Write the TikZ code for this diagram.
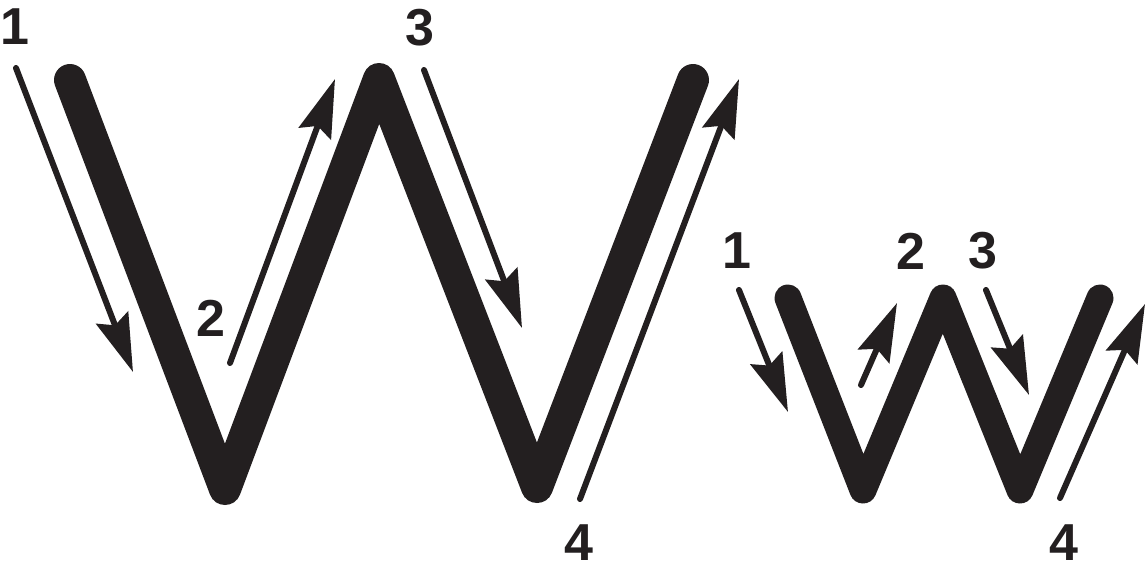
\documentclass[tikz,border=0pt]{standalone}
\usepackage{fontspec}
\setmainfont{Liberation Sans}
\usetikzlibrary{arrows.meta}
\definecolor{cInk}{RGB}{35,31,32}

\begin{document}
\begin{tikzpicture}[x=0.5pt, y=-0.5pt,
    bigstroke/.style={cInk, line width=16pt, line cap=round, line join=round},
    smallstroke/.style={cInk, line width=13.5pt, line cap=round, line join=round},
    guide/.style={cInk, line width=3pt, line cap=round,
      -{Stealth[length=29pt, width=17pt, inset=4pt]}},
    num/.style={text=cInk, inner sep=0pt, font=\fontsize{26}{26}\selectfont\bfseries}]
  \useasboundingbox (0,0) rectangle (1147,568);
  % Big W
  \coordinate (Wa) at (70,80);
  \coordinate (Wb) at (225,489);
  \coordinate (Wc) at (379,79);
  \coordinate (Wd) at (537,487);
  \coordinate (We) at (693,80);
  \draw[bigstroke] (Wa) -- (Wb) -- (Wc) -- (Wd) -- (We);
  % Small w
  \coordinate (wa) at (788,298);
  \coordinate (wb) at (863,490);
  \coordinate (wc) at (943,298);
  \coordinate (wd) at (1020,490);
  \coordinate (we) at (1100,298);
  \draw[smallstroke] (wa) -- (wb) -- (wc) -- (wd) -- (we);
  % Stroke order, big W
  \coordinate (A1s) at (16,68);   \coordinate (A1e) at (133,372);
  \coordinate (A2s) at (230,363); \coordinate (A2e) at (335,79);
  \coordinate (A3s) at (424,70);  \coordinate (A3e) at (522,328);
  \coordinate (A4s) at (580,499); \coordinate (A4e) at (739,79);
  \draw[guide] (A1s) -- (A1e);
  \draw[guide] (A2s) -- (A2e);
  \draw[guide] (A3s) -- (A3e);
  \draw[guide] (A4s) -- (A4e);
  \node[num] (N1) at (15,27) {1};
  \node[num] (N2) at (211,318) {2};
  \node[num] (N3) at (420,28) {3};
  \node[num] (N4) at (579,543) {4};
  % Stroke order, small w
  \coordinate (a1s) at (739,290);  \coordinate (a1e) at (788,412);
  \coordinate (a2s) at (861,385);  \coordinate (a2e) at (897,303);
  \coordinate (a3s) at (986,290);  \coordinate (a3e) at (1029,395);
  \coordinate (a4s) at (1060,498); \coordinate (a4e) at (1145,304);
  \draw[guide] (a1s) -- (a1e);
  \draw[guide] (a2s) -- (a2e);
  \draw[guide] (a3s) -- (a3e);
  \draw[guide] (a4s) -- (a4e);
  \node[num] (n1) at (737,251) {1};
  \node[num] (n2) at (911,251) {2};
  \node[num] (n3) at (983,251) {3};
  \node[num] (n4) at (1064,543) {4};
\end{tikzpicture}
\end{document}
